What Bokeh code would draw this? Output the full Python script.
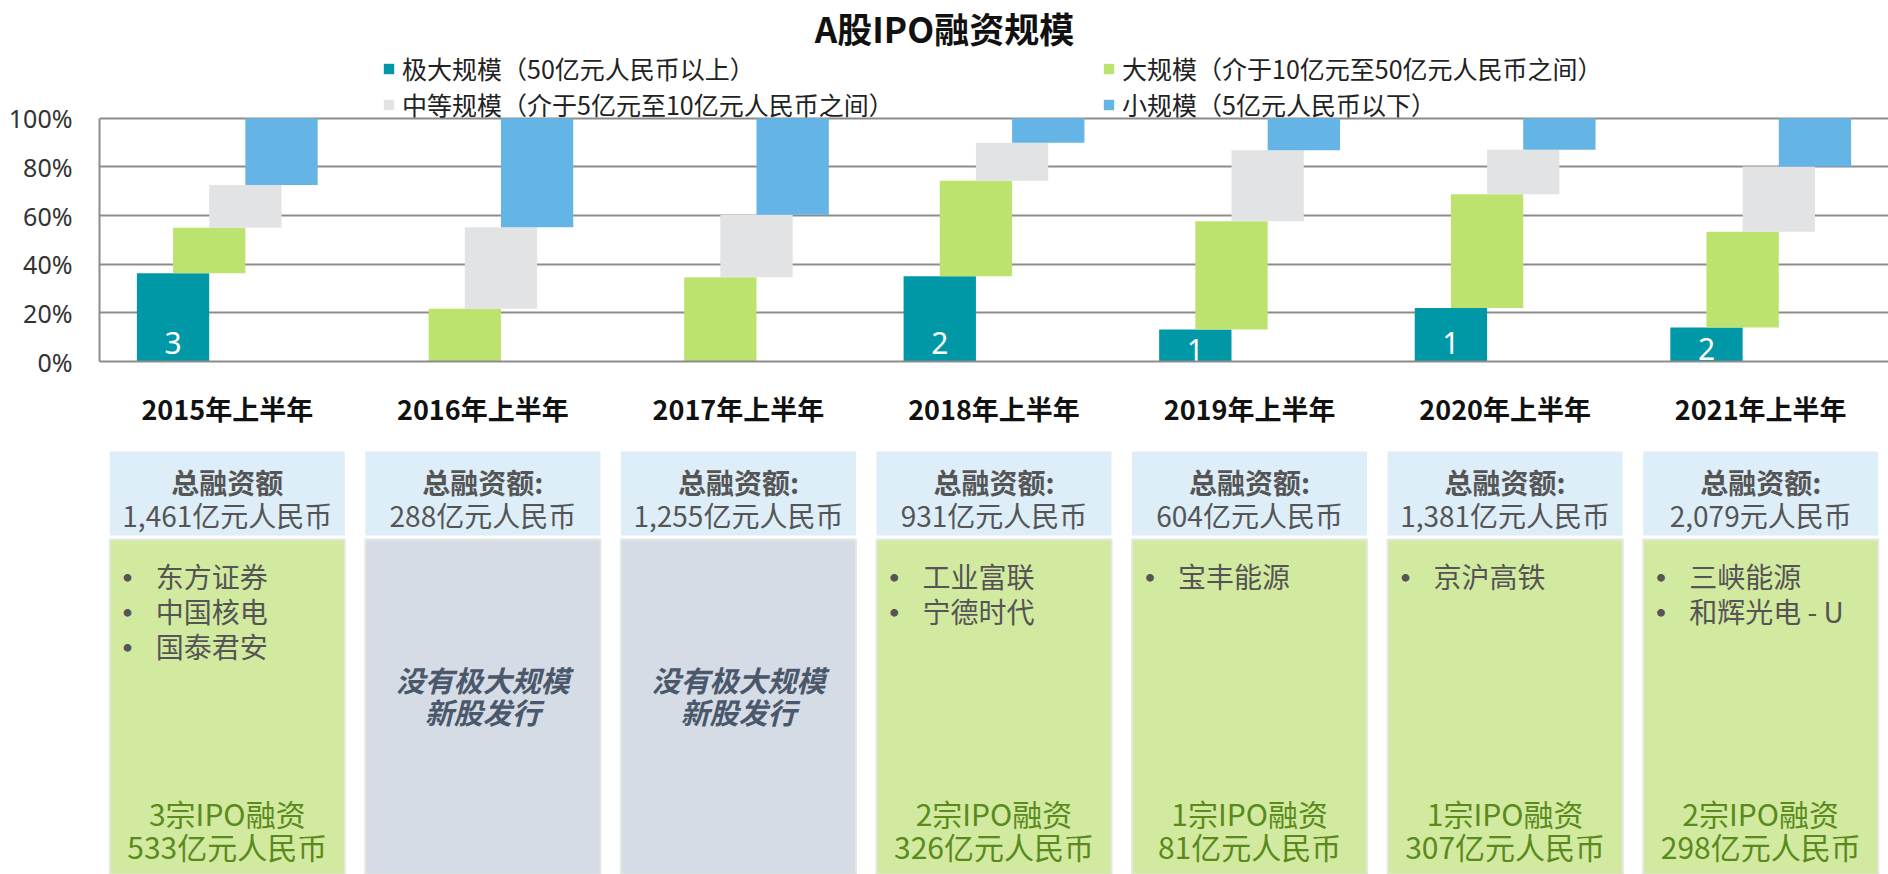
import numpy as np
from bokeh.plotting import figure
from bokeh.models import (FactorRange, Range1d, ColumnDataSource, FixedTicker,
                          Legend, LegendItem, Label, PrintfTickFormatter)
from bokeh.transform import dodge
from bokeh.layouts import column
from bokeh.embed import file_html
from bokeh.resources import INLINE
from bokeh.core.properties import value

# ---------------- data ----------------
periods = ["2015年上半年", "2016年上半年", "2017年上半年", "2018年上半年",
           "2019年上半年", "2020年上半年", "2021年上半年"]
# shares of total IPO proceeds (%) by deal size
xl_share = [36.3, 0.0, 0.0, 35.0, 13.2, 22.0, 14.0]          # 极大规模
large_share = [18.7, 21.7, 34.6, 39.3, 44.5, 46.7, 39.3]     # 大规模
medium_share = [17.6, 33.5, 25.7, 15.6, 29.1, 18.3, 26.9]    # 中等规模
small_share = [27.4, 44.8, 39.7, 10.1, 13.2, 13.0, 19.8]     # 小规模
xl_count = ["3", "", "", "2", "1", "1", "2"]

chart_title = "A股IPO融资规模"
series_names = ["极大规模（50亿元人民币以上）", "大规模（介于10亿元至50亿元人民币之间）",
                "中等规模（介于5亿元至10亿元人民币之间）", "小规模（5亿元人民币以下）"]
y_ticks = [0, 20, 40, 60, 80, 100]

total_head = ["总融资额", "总融资额:", "总融资额:", "总融资额:", "总融资额:", "总融资额:", "总融资额:"]
total_amount = ["1,461亿元人民币", "288亿元人民币", "1,255亿元人民币", "931亿元人民币",
                "604亿元人民币", "1,381亿元人民币", "2,079元人民币"]
xl_deals = [["东方证券", "中国核电", "国泰君安"], [], [], ["工业富联", "宁德时代"],
            ["宝丰能源"], ["京沪高铁"], ["三峡能源", "和辉光电 - U"]]
xl_summary_1 = ["3宗IPO融资", "", "", "2宗IPO融资", "1宗IPO融资", "1宗IPO融资", "2宗IPO融资"]
xl_summary_2 = ["533亿元人民币", "", "", "326亿元人民币", "81亿元人民币", "307亿元人民币", "298亿元人民币"]
no_deal_1 = "没有极大规模"
no_deal_2 = "新股发行"

# ---------------- styles ----------------
C_XL, C_L, C_M, C_S = "#0097a7", "#bde36f", "#e2e3e5", "#64b5e5"
GRID = "#8c8c8c"
CJK = value("Noto Sans CJK SC")
W = 0.283
STEP = W / 2
FRAME_TOP_PCT = 100 * 368 / 248   # frame extends above 100% to hold title + legend

# ---------------- top chart ----------------
xl = np.array(xl_share); lg = np.array(large_share)
md = np.array(medium_share); sm = np.array(small_share)
c1 = xl; c2 = c1 + lg; c3 = c2 + md; c4 = c3 + sm

src = ColumnDataSource(dict(
    period=periods,
    b0=np.zeros(len(periods)), t0=c1,
    b1=c1, t1=c2, b2=c2, t2=c3, b3=c3, t3=c4,
    cnt=xl_count, cnt_y=np.minimum(xl / 2, 9.5),
))

xr = FactorRange(*periods, range_padding=0)
p = figure(width=1888, height=430, x_range=xr, y_range=Range1d(0, FRAME_TOP_PCT),
           output_backend="svg", toolbar_location=None, title=None,
           min_border_left=99, min_border_right=0, min_border_top=0,
           min_border_bottom=62)
p.outline_line_color = None

r0 = p.vbar(x=dodge("period", -1.5 * STEP, range=xr), width=W, bottom="b0", top="t0",
            source=src, fill_color=C_XL, line_color=None)
r1 = p.vbar(x=dodge("period", -0.5 * STEP, range=xr), width=W, bottom="b1", top="t1",
            source=src, fill_color=C_L, line_color=None)
r2 = p.vbar(x=dodge("period", 0.5 * STEP, range=xr), width=W, bottom="b2", top="t2",
            source=src, fill_color=C_M, line_color=None)
r3 = p.vbar(x=dodge("period", 1.5 * STEP, range=xr), width=W, bottom="b3", top="t3",
            source=src, fill_color=C_S, line_color=None)

p.text(x=dodge("period", -1.5 * STEP, range=xr), y="cnt_y", text="cnt", source=src,
       text_color="white", text_font_size="30px", text_font=value("Noto Sans"),
       text_align="center", text_baseline="middle", y_offset=5)

p.yaxis.ticker = FixedTicker(ticks=y_ticks)
p.yaxis.bounds = (0, 100)
p.yaxis.formatter = PrintfTickFormatter(format="%d%%")
p.yaxis.axis_line_color = GRID
p.yaxis.axis_line_width = 2
p.yaxis.major_tick_line_color = None
p.yaxis.minor_tick_line_color = None
p.yaxis.major_label_standoff = 21
p.yaxis.major_label_text_font_size = "25px"
p.yaxis.major_label_text_font = "Noto Sans"
p.yaxis.major_label_text_color = "#333333"

p.xaxis.axis_line_color = GRID
p.xaxis.axis_line_width = 2
p.xaxis.major_tick_line_color = None
p.xaxis.minor_tick_line_color = None
p.xaxis.major_label_standoff = 21
p.xaxis.major_label_text_font_size = "27px"
p.xaxis.major_label_text_font = "Noto Sans CJK SC"
p.xaxis.major_label_text_font_style = "bold"
p.xaxis.major_label_text_color = "#111111"

p.xgrid.grid_line_color = None
p.ygrid.grid_line_color = GRID
p.ygrid.grid_line_width = 2

# legend fills column by column: order items so rows read 极大/大 and 中等/小
legend = Legend(items=[LegendItem(label=series_names[0], renderers=[r0]),
                       LegendItem(label=series_names[2], renderers=[r2]),
                       LegendItem(label=series_names[1], renderers=[r1]),
                       LegendItem(label=series_names[3], renderers=[r3])],
                ncols=2, location=(283, 239), margin=0, padding=0, spacing=0,
                glyph_width=13, glyph_height=13, label_height=25, label_width=700,
                label_standoff=7, label_text_font="Noto Sans CJK SC",
                label_text_font_size="25px", label_text_color="#222222",
                border_line_color=None, background_fill_alpha=0)
p.add_layout(legend, "center")
p.add_layout(Label(x=845, y=334, x_units="screen", y_units="screen", text=chart_title,
                   text_align="center", text_baseline="middle", text_font_size="35px",
                   text_font_style="bold", text_font="Noto Sans CJK SC", text_color="#111111"))

# ---------------- bottom panel ----------------
q = figure(width=1888, height=444, x_range=xr, y_range=Range1d(874, 430),
           output_backend="svg", toolbar_location=None,
           x_axis_location=None, y_axis_location=None,
           min_border_left=99, min_border_right=0, min_border_top=0, min_border_bottom=0)
q.outline_line_color = None
q.grid.visible = False

has_deal = [len(d) > 0 for d in xl_deals]
body_color = ["#d2e9a0" if h else "#d5dce6" for h in has_deal]
bsrc = ColumnDataSource(dict(period=periods, body=body_color, head=total_head, amt=total_amount,
                             s1=xl_summary_1, s2=xl_summary_2))
q.vbar(x="period", width=0.92, bottom=535, top=451, source=bsrc,
       fill_color="#ddeef9", line_color=None)
q.vbar(x="period", width=0.92, bottom=874, top=539, source=bsrc,
       fill_color="body", line_color="#e4e7e2", line_width=2)

q.text(x="period", y=481, text="head", source=bsrc, text_font=CJK, text_font_size="28px",
       text_font_style="bold", text_color="#555555", text_align="center", text_baseline="middle")
q.text(x="period", y=514, text="amt", source=bsrc, text_font=CJK, text_font_size="28px",
       text_color="#555555", text_align="center", text_baseline="middle")

# bullet lists
bx, by, bt = [], [], []
for per, deals in zip(periods, xl_deals):
    for j, d in enumerate(deals):
        bx.append(per); by.append(575 + 35 * j); bt.append(d)
lsrc = ColumnDataSource(dict(period=bx, y=by, t=bt, dot=["•"] * len(bt)))
q.text(x=dodge("period", -0.39, range=xr), y="y", text="dot", source=lsrc, text_font=CJK,
       text_font_size="30px", text_font_style="bold", text_color="#555555",
       text_align="center", text_baseline="middle")
q.text(x=dodge("period", -0.28, range=xr), y="y", text="t", source=lsrc, text_font=CJK,
       text_font_size="28px", text_color="#555555", text_align="left", text_baseline="middle")

# no-deal notes
nd = [per for per, h in zip(periods, has_deal) if not h]
nsrc = ColumnDataSource(dict(period=nd, a=[no_deal_1] * len(nd), b=[no_deal_2] * len(nd)))
q.text(x="period", y=678, text="a", source=nsrc, text_font=CJK, text_font_size="29px",
       text_font_style="bold italic", text_color="#4b586b", text_align="center", text_baseline="middle")
q.text(x="period", y=710, text="b", source=nsrc, text_font=CJK, text_font_size="29px",
       text_font_style="bold italic", text_color="#4b586b", text_align="center", text_baseline="middle")

# summaries
q.text(x="period", y=812, text="s1", source=bsrc, text_font=CJK, text_font_size="30px",
       text_color="#5b8a1c", text_align="center", text_baseline="middle")
q.text(x="period", y=845, text="s2", source=bsrc, text_font=CJK, text_font_size="30px",
       text_color="#5b8a1c", text_align="center", text_baseline="middle")

layout = column(p, q)
open("out.html", "w").write(file_html(layout, INLINE))
